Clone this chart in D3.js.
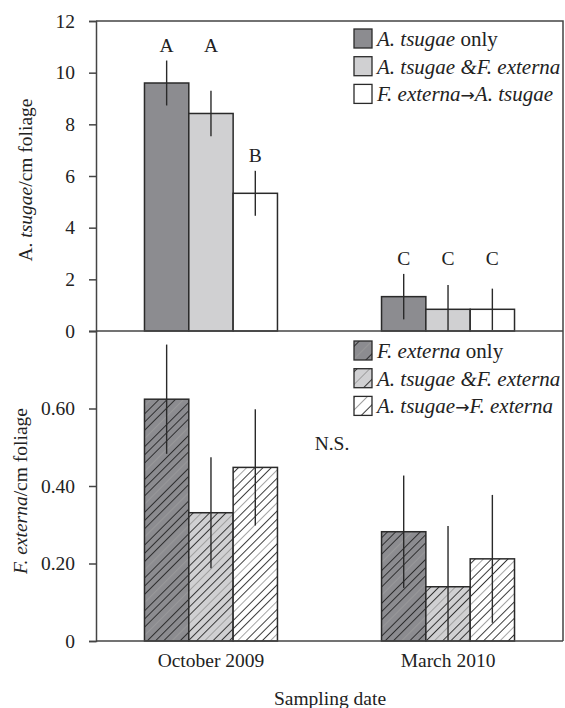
<!DOCTYPE html>
<html><head><meta charset="utf-8">
<script src="https://cdn.jsdelivr.net/npm/d3@7"></script>
<style>body{margin:0;background:#fff}svg{display:block;font-family:"Liberation Serif","Times New Roman",serif}</style>
</head><body><svg id="c" width="565" height="708"></svg>
<script>
const dates = ["October 2009", "March 2010"];
const seriesTop = ["A. tsugae only", "A. tsugae & F. externa", "F. externa → A. tsugae"];
const seriesBot = ["F. externa only", "A. tsugae & F. externa", "A. tsugae → F. externa"];
const fills = ["#8c8c90", "#d0d0d2", "#ffffff"];
// top panel: A. tsugae per cm foliage [series][date]
const topVals = [[9.6, 1.33], [8.42, 0.84], [5.33, 0.84]];
const topErr  = [[0.87, 0.88], [0.88, 0.94], [0.87, 0.80]];
const topLetters = [["A", "C"], ["A", "C"], ["B", "C"]];
// bottom panel: F. externa per cm foliage
const botVals = [[0.624, 0.282], [0.331, 0.140], [0.448, 0.212]];
const botErr  = [[0.141, 0.145], [0.143, 0.157], [0.150, 0.165]];
const topTicks = [0, 2, 4, 6, 8, 10, 12];
const botTicks = [0, 0.2, 0.4, 0.6];

const svg = d3.select("#c");
const L = 96, R = 563, T = 21, M = 331, B = 641;
const ink = "#2a2a2a";
const FS = 19.5;

const defs = svg.append("defs");
function hatch(id, f, sp) {
  const w = sp * 4;
  const pp = defs.append("pattern").attr("id", id).attr("patternUnits", "userSpaceOnUse")
    .attr("width", w).attr("height", 40).attr("patternTransform", "rotate(45)");
  pp.append("rect").attr("width", w).attr("height", 40).attr("fill", f);
  [0, 1, 2, 3].forEach(k => {
    pp.append("line").attr("x1", k * sp + 0.5).attr("x2", k * sp + 0.5).attr("y1", 0).attr("y2", 40)
      .attr("stroke", k === 3 ? "#999" : "#222").attr("stroke-width", 0.9);
  });
}
function hatchLeg(id, f) {
  const sp = 9;
  const pp = defs.append("pattern").attr("id", id).attr("patternUnits", "userSpaceOnUse")
    .attr("width", sp * 2).attr("height", 40).attr("patternTransform", "translate(356,0) rotate(45)");
  pp.append("rect").attr("width", sp * 2).attr("height", 40).attr("fill", f);
  pp.append("line").attr("x1", 0.5).attr("x2", 0.5).attr("y1", 0).attr("y2", 40).attr("stroke", "#999").attr("stroke-width", 0.9);
  pp.append("line").attr("x1", sp + 0.5).attr("x2", sp + 0.5).attr("y1", 0).attr("y2", 40).attr("stroke", "#222").attr("stroke-width", 0.9);
}
fills.forEach((f, i) => { hatch("g" + i, f, 5.8); hatchLeg("lg" + i, f); });

const x0 = d3.scaleBand().domain(dates).range([L, R]).paddingInner(0.439).paddingOuter(0.2045);
const x1 = d3.scaleBand().domain([0, 1, 2]).range([0, x0.bandwidth()]).padding(0);
const yT = d3.scaleLinear().domain([0, 12]).range([M, T]);
const yB = d3.scaleLinear().domain([0, 0.8]).range([B, M]);

function panel(vals, errs, y, fillFn) {
  const g = svg.append("g");
  vals.forEach((sv, s) => {
    sv.forEach((v, d) => {
      const xx = x0(dates[d]) + x1(s);
      g.append("rect").attr("x", xx).attr("y", y(v)).attr("width", x1.bandwidth()).attr("height", y(0) - y(v))
        .attr("fill", fillFn(s)).attr("stroke", ink).attr("stroke-width", 1.5);
    });
  });
  vals.forEach((sv, s) => {
    sv.forEach((v, d) => {
      const cx = x0(dates[d]) + x1(s) + x1.bandwidth() / 2;
      const e = errs[s][d];
      g.append("line").attr("x1", cx).attr("x2", cx).attr("y1", y(v + e)).attr("y2", y(Math.max(0, v - e)))
        .attr("stroke", ink).attr("stroke-width", 1.4);
    });
  });
}
panel(topVals, topErr, yT, s => fills[s]);
panel(botVals, botErr, yB, s => "url(#g" + s + ")");

// significance letters: aligned per letter group above the highest error bar of that group
const letterTop = {};
topVals.forEach((sv, s) => sv.forEach((v, d) => {
  const k = topLetters[s][d];
  letterTop[k] = Math.max(letterTop[k] || 0, v + topErr[s][d]);
}));
topVals.forEach((sv, s) => sv.forEach((v, d) => {
  const cx = x0(dates[d]) + x1(s) + x1.bandwidth() / 2;
  const k = topLetters[s][d];
  svg.append("text").attr("x", cx).attr("y", yT(letterTop[k]) - 9).attr("text-anchor", "middle")
    .attr("font-size", FS).attr("fill", "#222").text(k);
}));

// frames
const fr = svg.append("g").attr("stroke", "#444").attr("stroke-width", 1.5).attr("fill", "none");
fr.append("path").attr("d", `M${L},${T}H${R}V${B}`);
fr.append("line").attr("x1", L).attr("x2", R).attr("y1", M).attr("y2", M);

// axes
const aT = svg.append("g").attr("transform", `translate(${L},0)`)
  .call(d3.axisLeft(yT).tickValues(topTicks).tickSize(7).tickPadding(14).tickFormat(d3.format("d")));
const aB = svg.append("g").attr("transform", `translate(${L},0)`)
  .call(d3.axisLeft(yB).tickValues(botTicks).tickSize(7).tickPadding(14).tickFormat(d => d === 0 ? "0" : d3.format(".2f")(d)));
const aX = svg.append("g").attr("transform", `translate(0,${B})`)
  .call(d3.axisBottom(x0).tickSize(0).tickPadding(12));
[aT, aB, aX].forEach(a => {
  a.selectAll("path.domain").attr("stroke", "#444").attr("stroke-width", 1.5);
  a.selectAll(".tick line").attr("stroke", "#444").attr("stroke-width", 1.5);
  a.selectAll("text").attr("font-size", FS).attr("font-family", "Liberation Serif").attr("fill", "#222");
});
aX.select("path.domain").attr("d", `M${L},0H${R}`);

// axis titles
svg.append("text").attr("transform", `translate(32,180) rotate(-90)`).attr("text-anchor", "middle")
  .attr("font-size", FS).attr("fill", "#222")
  .call(t => { t.append("tspan").text("A. "); t.append("tspan").attr("font-style", "italic").text("tsugae"); t.append("tspan").text("/cm foliage"); });
svg.append("text").attr("transform", `translate(27,491) rotate(-90)`).attr("text-anchor", "middle")
  .attr("font-size", FS).attr("fill", "#222")
  .call(t => { t.append("tspan").attr("font-style", "italic").text("F. externa"); t.append("tspan").text("/cm foliage"); });
svg.append("text").attr("x", 330).attr("y", 705).attr("text-anchor", "middle").attr("font-size", FS).attr("fill", "#222").text("Sampling date");

// N.S.
svg.append("text").attr("x", 332).attr("y", 450).attr("text-anchor", "middle").attr("font-size", FS).attr("fill", "#222").text("N.S.");

// legends
function legend(y0, fillFn, labels) {
  labels.forEach((lab, i) => {
    const y = y0 + i * 27.7;
    svg.append("rect").attr("x", 354).attr("y", y - 10).attr("width", 18).attr("height", 19)
      .attr("fill", fillFn(i)).attr("stroke", ink).attr("stroke-width", 1.3);
    const t = svg.append("text").attr("x", 377).attr("y", y + 7).attr("font-size", 21).attr("fill", "#222");
    lab.forEach(([txt, it]) => {
      if (it === 2) t.append("tspan").attr("font-family", "DejaVu Sans").attr("font-size", 17).text(txt);
      else t.append("tspan").attr("font-style", it ? "italic" : null).text(txt);
    });
  });
}
legend(39, i => fills[i], [
  [["A. tsugae", 1], [" only", 0]],
  [["A. tsugae &F. externa", 1]],
  [["F. externa", 1], ["\u2192", 2], ["A. tsugae", 1]]
]);
legend(351, i => "url(#lg" + i + ")", [
  [["F. externa", 1], [" only", 0]],
  [["A. tsugae &F. externa", 1]],
  [["A. tsugae", 1], ["\u2192", 2], ["F. externa", 1]]
]);
</script></body></html>
